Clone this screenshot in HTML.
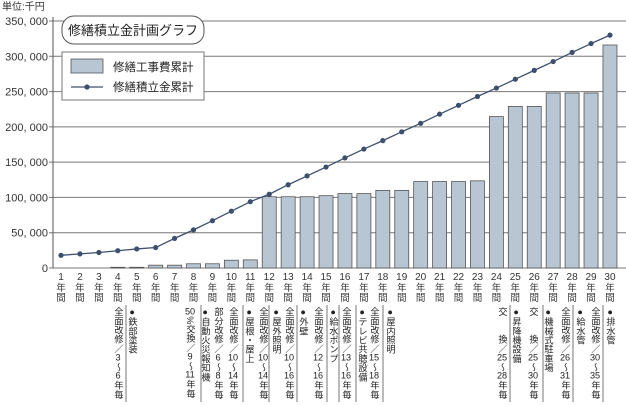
<!DOCTYPE html>
<html><head><meta charset="utf-8">
<style>
body{margin:0;background:#fff;}
svg text{font-family:"Liberation Sans","Noto Sans CJK JP",sans-serif;}
.ann{position:absolute;top:307px;writing-mode:vertical-rl;font-family:"Liberation Sans","Noto Sans CJK JP",sans-serif;font-size:9.2px;line-height:12px;color:#222;white-space:nowrap;}
.ann .n{text-combine-upright:all;}
</style></head>
<body>
<div style="position:relative;width:626px;height:406px;overflow:hidden">
<svg id="chart" width="626" height="406" style="position:absolute;left:0;top:0"></svg>
<div id="anns"></div>
</div>
<script>
const categories=[1,2,3,4,5,6,7,8,9,10,11,12,13,14,15,16,17,18,19,20,21,22,23,24,25,26,27,28,29,30];
const costValues=[0,0,0,1000,1000,4000,4000,6000,6000,11000,11500,101000,101000,101000,102500,105500,105500,110000,110000,122500,122500,122500,123500,214500,229000,229000,248000,248000,248000,316000];
const reserveValues=[18000,20000,22000,24500,27000,29000,42000,54000,67000,80500,94000,104500,118000,130500,143000,156000,168500,180500,193000,205000,218000,230500,243000,255000,267500,280000,292500,305500,318000,330000];
const yTicks=[0,50000,100000,150000,200000,250000,300000,350000];
const yTickLabels=["0","50, 000","100, 000","150, 000","200, 000","250, 000","300, 000","350, 000"];
const annotations=[
 [118,"全面改修／|3|～|6|年毎"],[132,"●鉄部塗装"],
 [190,"|50|%交換／|9|～|11|年毎"],[205,"●自動火災報知機"],[218,"部分改修／|6|～|8|年毎"],
 [233,"全面改修／|10|～|14|年毎"],[249,"●屋根・屋上"],[263,"全面改修／|10|～|14|年毎"],
 [276,"●屋外照明"],[289,"全面改修／|10|～|16|年毎"],[303,"●外壁"],[318,"全面改修／|12|～|16|年毎"],
 [333,"●給水ポンプ"],[346,"全面改修／|13|～|16|年毎"],[362,"●テレビ共聴設備"],[374,"全面改修／|15|～|18|年毎"],
 [390,"●屋内照明"],[502,"交　　換／|25|～|28|年毎"],[516,"●昇降機設備"],[533,"交　　換／|25|～|30|年毎"],
 [548,"●機械式駐車場"],[565,"全面改修／|26|～|31|年毎"],[580,"●給水管"],[595,"全面改修／|30|～|35|年毎"],[610,"●排水管"]
];
const separators=[126,201,243,269,297,327,339,356,383,510,543,573,603];
const NS="http://www.w3.org/2000/svg";
const svg=document.getElementById('chart');
const x0=53,x1=626,yBase=268,yTop=21,yMax=350000;
const xs=i=>61+i*18.93;
const ys=v=>yBase-(v/yMax)*(yBase-yTop);
function mk(t,a,p){const e=document.createElementNS(NS,t);for(const k in a)e.setAttribute(k,a[k]);(p||svg).appendChild(e);return e;}
let g=mk('g',{});

yTicks.forEach((v,i)=>{
 const l=mk('line',{x1:x0-4,x2:x1,y1:ys(v),y2:ys(v),stroke:'#777','stroke-width':1},g);
 
 const t=mk('text',{x:48,y:ys(v)+4,'text-anchor':'end','font-size':11,fill:'#333'});
 t.textContent=yTickLabels[i];
 
});
let ax=mk('line',{x1:x0,x2:x0,y1:yTop-4,y2:yBase,stroke:'#555','stroke-width':1});

let ut=mk('text',{x:2,y:10,'font-size':10,fill:'#333'});ut.textContent='単位:千円';

categories.forEach((c,i)=>{
 const v=costValues[i];
 if(v>0){const h=yBase-ys(v);
  const r=mk('rect',{x:xs(i)-7,y:ys(v),width:14,height:Math.max(h,0.8),fill:'#b8c6d4',stroke:'#555','stroke-width':0.8});
  }
 const t=mk('text',{x:xs(i),y:280,'text-anchor':'middle','font-size':10,fill:'#333'});t.textContent=c;
 
 ['年','間'].forEach((ch,j)=>{const u=mk('text',{x:xs(i),y:291+j*10,'text-anchor':'middle','font-size':9.5,fill:'#333'});u.textContent=ch;
  });
});
const pts=reserveValues.map((v,i)=>xs(i)+','+ys(v)).join(' ');
let pl=mk('polyline',{points:pts,fill:'none',stroke:'#3d4f6e','stroke-width':1.3});

reserveValues.forEach((v,i)=>{const c=mk('circle',{cx:xs(i),cy:ys(v),r:2.6,fill:'#3d4f6e'});
 });
let tb=mk('rect',{x:62,y:16,width:142,height:28,rx:12,fill:'#fff',stroke:'#555','stroke-width':1});

let tt=mk('text',{x:133,y:35,'text-anchor':'middle','font-size':13,fill:'#222'});tt.textContent='修繕積立金計画グラフ';

let lg=mk('g',{});
mk('rect',{x:62,y:52,width:142,height:48,fill:'#fff',stroke:'#777','stroke-width':1},lg);
let ls=mk('rect',{x:71,y:59,width:32,height:14,fill:'#b8c6d4',stroke:'#555','stroke-width':0.8},lg);

let l1=mk('text',{x:113,y:71,'font-size':11.5,fill:'#222'},lg);l1.textContent='修繕工事費累計';

mk('line',{x1:71,x2:103,y1:87,y2:87,stroke:'#3d4f6e','stroke-width':1.3},lg);
mk('circle',{cx:87,cy:87,r:2.6,fill:'#3d4f6e'},lg);
let l2=mk('text',{x:113,y:91,'font-size':11.5,fill:'#222'},lg);l2.textContent='修繕積立金累計';

separators.forEach(x=>{const l=mk('line',{x1:x,x2:x,y1:305,y2:402,stroke:'#555','stroke-width':0.8});
 });
const ac=document.getElementById('anns');
annotations.forEach(([x,s])=>{
 const d=document.createElement('div');d.className='ann';d.style.left=(x-6)+'px';
 d.innerHTML=s.split('|').map((p,i)=>i%2?'<span class="n">'+p+'</span>':p).join('');
 
 
 ac.appendChild(d);
});
</script>
</body></html>
